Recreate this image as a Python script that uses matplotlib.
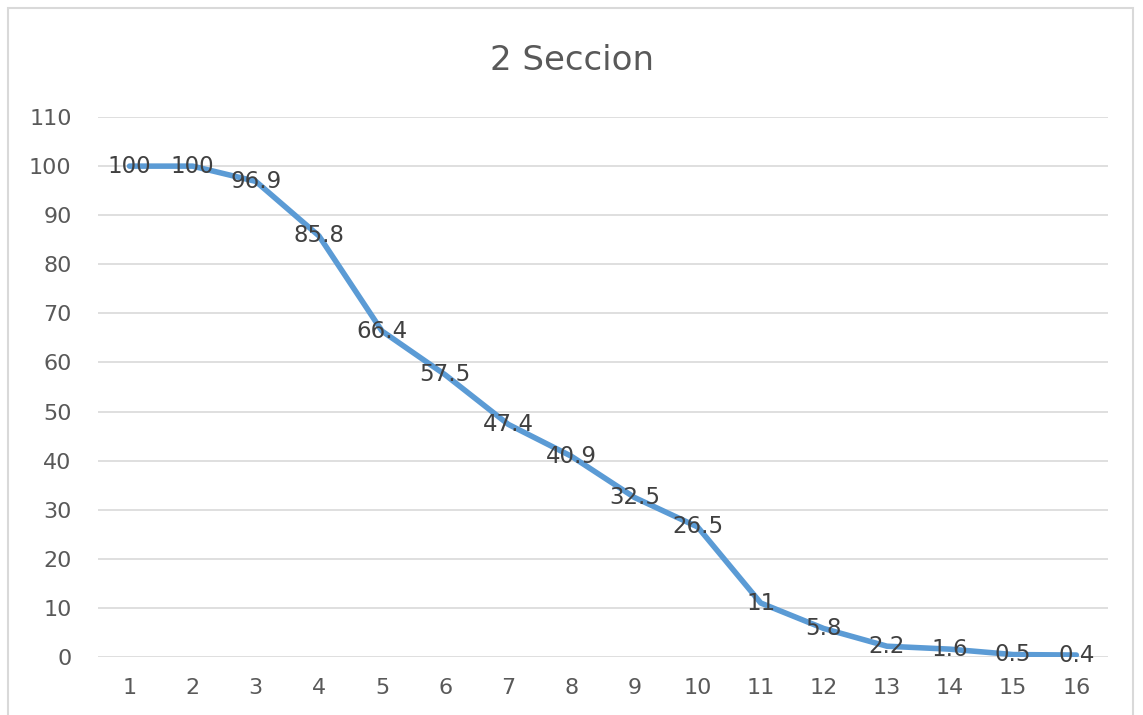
import matplotlib.pyplot as plt
from matplotlib.patches import Rectangle

# chart data
title = '2 Seccion'
categories = list(range(1, 17))
values = [100, 100, 96.9, 85.8, 66.4, 57.5, 47.4, 40.9, 32.5, 26.5, 11, 5.8, 2.2, 1.6, 0.5, 0.4]
labels = ['100', '100', '96.9', '85.8', '66.4', '57.5', '47.4', '40.9', '32.5', '26.5', '11', '5.8', '2.2', '1.6', '0.5', '0.4']
yticks = list(range(0, 111, 10))

line_color = '#5B9BD5'
grid_color = '#D9D9D9'
text_color = '#595959'

fig = plt.figure(figsize=(11.43, 7.15), dpi=100)
ax = fig.add_axes([0.0857, 0.0811, 0.8836, 0.7552])

# chart border (bottom edge is cut off in the original)
fig.patches.append(Rectangle((8 / 1143, -0.05), 1125 / 1143, 1.05 - 8 / 715,
                             transform=fig.transFigure, fill=False,
                             edgecolor='#D9D9D9', linewidth=1.5))

ax.plot(categories, values, color=line_color, linewidth=4,
        solid_joinstyle='round', solid_capstyle='round', zorder=3)

for xi, yi, lab in zip(categories, values, labels):
    ax.text(xi, yi, lab, ha='center', va='center', fontsize=16.5,
            color='#404040', zorder=4)

ax.set_xlim(0.5, 16.5)
ax.set_ylim(0, 110)
ax.set_yticks(yticks)
ax.set_xticks(categories)
ax.set_xticklabels([str(c) for c in categories])
ax.tick_params(axis='both', length=0, labelsize=16, labelcolor=text_color)
ax.tick_params(axis='y', pad=19)
ax.tick_params(axis='x', pad=15)
ax.grid(axis='y', color=grid_color, linewidth=1.2)
ax.set_axisbelow(True)
for s in ax.spines.values():
    s.set_visible(False)

fig.text(0.5, 0.916, title, ha='center', va='center', fontsize=24.5, color=text_color)

fig.savefig('out.png', dpi=100)
